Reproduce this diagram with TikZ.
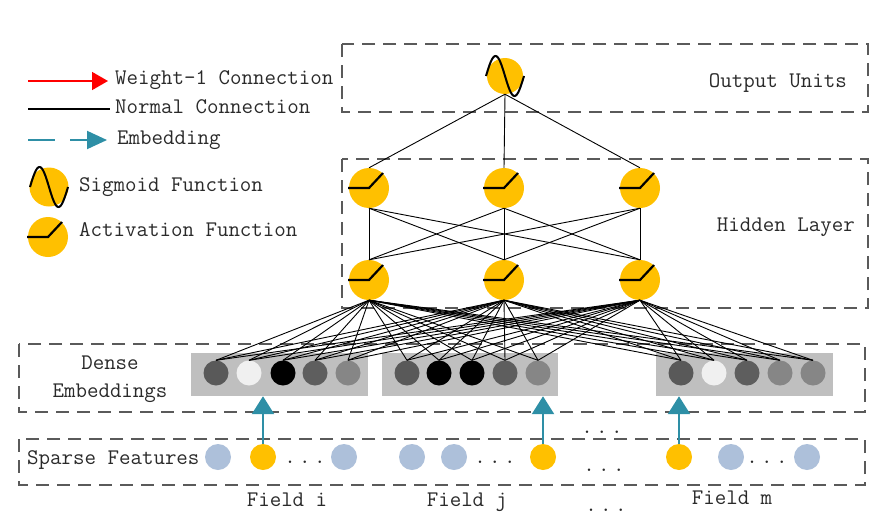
\documentclass[tikz,border=0pt]{standalone}
\usepackage{fontspec}
\usetikzlibrary{arrows.meta}
\definecolor{ygold}{HTML}{FFC000}
\definecolor{lblue}{HTML}{ADC0DA}
\definecolor{teal2}{HTML}{2E8FA6}
\definecolor{rectg}{HTML}{BFBFBF}
\definecolor{boxg}{HTML}{5A5A5A}
\definecolor{txt}{HTML}{2A2A2A}
\definecolor{c1}{HTML}{595959}
\definecolor{c2}{HTML}{F0F0F0}
\definecolor{c3}{HTML}{000000}
\definecolor{c4}{HTML}{5E5E5E}
\definecolor{c5}{HTML}{868686}
\begin{document}
\begin{tikzpicture}[x=1pt,y=-1pt,
  lbl/.style={font=\ttfamily\fontsize{22.3}{25}\selectfont, text=txt, inner sep=0pt, text height=13pt, text depth=4pt},
  unit/.style={circle, fill=ygold, minimum size=40pt, inner sep=0pt},
  emb/.style={circle, minimum size=25pt, inner sep=0pt, fill=#1},
  sp/.style={circle, minimum size=26pt, inner sep=0pt, fill=#1},
  grect/.style={fill=rectg, inner sep=0pt, minimum height=43pt},
  layerbox/.style={draw=boxg, line width=2.5pt, dash pattern=on 13pt off 8pt},
  conn/.style={black, line width=0.9pt},
  embarrow/.style={teal2, line width=2.5pt, -{Triangle[length=18pt,width=22pt]}},
  actsym/.pic={\draw[line width=2.2pt, line join=miter] (-21,0) -- (0,0) -- (14,-15);},
  sigsym/.pic={\draw[line width=2pt] plot[domain=-19:19, samples=50, smooth] (\x,{-20*sin(360*(\x+19)/38)});}
]
\useasboundingbox (0,0) rectangle (880,519);

% layer boxes
\draw[layerbox] (342,44) rectangle (868,112);
\draw[layerbox] (342,159) rectangle (868,308);
\draw[layerbox] (19,344) rectangle (865,412);
\draw[layerbox] (19,439) rectangle (865,485);

% gray embedding rectangles
\node[grect, minimum width=177pt] (g1) at (279.5,374.5) {};
\node[grect, minimum width=176pt] (g2) at (470,374.5) {};
\node[grect, minimum width=177pt] (g3) at (744.5,374.5) {};

% embedding circles
\foreach \i/\x/\c in {1/216/c1, 2/249/c2, 3/283/c3, 4/315/c4, 5/348/c5,
                      6/407/c1, 7/439/c3, 8/472/c3, 9/505/c4, 10/538/c5,
                      11/681/c1, 12/714/c2, 13/747/c4, 14/780/c5, 15/813/c5}
  \node[emb=\c] (e\i) at (\x,373) {};

% hidden units
\foreach \i/\x in {1/369,2/504,3/640} {
  \node[unit] (ht\i) at (\x,188) {};
  \pic at (ht\i) {actsym};
  \node[unit] (hb\i) at (\x,280) {};
  \pic at (hb\i) {actsym};
}

% output unit
\node[unit, minimum size=36pt] (out) at (505,76) {};
\pic at (out) {sigsym};

% connections
\foreach \i in {1,2,3} \draw[conn] (out.south) -- (ht\i.north);
\foreach \i in {1,2,3} \foreach \j in {1,2,3} \draw[conn] (ht\i.south) -- (hb\j.north);
\foreach \i in {1,2,3} \foreach \j in {1,...,15} \draw[conn] (hb\i.south) -- (e\j.north);

% sparse features
\foreach \i/\x/\c in {1/218/lblue, 2/263/ygold, 3/344/lblue, 4/412/lblue, 5/454/lblue,
                      6/543/ygold, 7/679/ygold, 8/731/lblue, 9/807/lblue}
  \node[sp=\c] (s\i) at (\x,457) {};

% embedding arrows
\draw[embarrow] (s2.north) -- (s2.north |- g1.south);
\draw[embarrow] (s6.north) -- (s6.north |- g2.south);
\draw[embarrow] (s7.north) -- (s7.north |- g3.south);

% labels
\node[lbl, anchor=east] (outlbl) at (847,83) {Output Units};
\node[lbl, anchor=east] (hidlbl) at (855,227) {Hidden Layer};
\node[lbl] (dlbl1) at (110,365) {Dense};
\node[lbl] (dlbl2) at (110,393) {Embeddings};
\node[lbl, anchor=west] (splbl) at (27,460) {Sparse Features};
\node[lbl] (fi) at (287,502) {Field i};
\node[lbl] (fj) at (467,502) {Field j};
\node[lbl] (fm) at (732,500) {Field m};

% dots
\foreach \n/\x/\y in {d1/305/459, d2/495/459, d3/767/459, d4/602/429, d5/604/467, d6/606/507}
  \node[lbl] (\n) at (\x,\y) {.\hspace{3.3pt}.\hspace{3.3pt}.};

% legend
\coordinate (r1) at (28,81); \coordinate (r2) at (108,81);
\draw[red, line width=1.5pt, -{Triangle[length=16pt,width=18pt]}] (r1) -- (r2);
\node[lbl, anchor=west] (leg1) at (115,80) {Weight-1 Connection};
\coordinate (n1) at (28,109); \coordinate (n2) at (110,109);
\draw[black, line width=1.5pt] (n1) -- (n2);
\node[lbl, anchor=west] (leg2) at (115,109) {Normal Connection};
\coordinate (t1) at (28,140); \coordinate (t2) at (107,140);
\draw[teal2, line width=2pt, dash pattern=on 27pt off 15pt, -{Triangle[length=20pt,width=18pt]}] (t1) -- (t2);
\node[lbl, anchor=west] (leg3) at (117,140) {Embedding};
\node[unit, minimum size=39pt] (lsig) at (49,187) {};
\pic at (lsig) {sigsym};
\node[lbl, anchor=west] (leg4) at (79,187) {Sigmoid Function};
\node[unit] (lact) at (48,237) {};
\pic at (lact) {actsym};
\node[lbl, anchor=west] (leg5) at (79,232) {Activation Function};
\end{tikzpicture}
\end{document}
